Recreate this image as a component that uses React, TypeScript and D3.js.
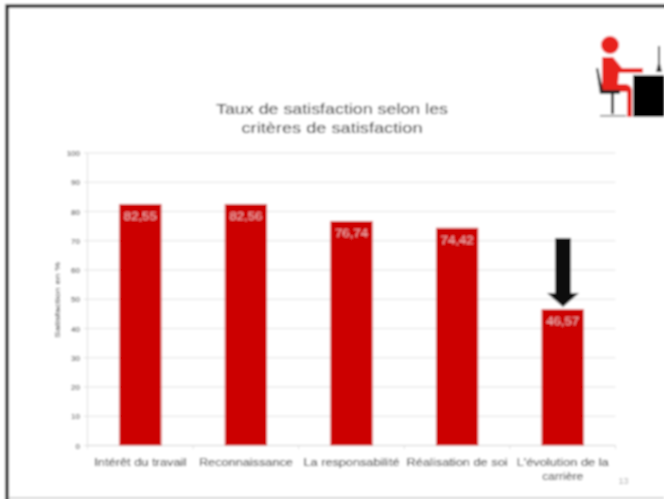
import React from "react";
import * as d3 from "d3";

const categories = ["Intérêt du travail", "Reconnaissance", "La responsabilité", "Réalisation de soi", "L'évolution de la carrière"];
const categoryLines = [["Intérêt du travail"], ["Reconnaissance"], ["La responsabilité"], ["Réalisation de soi"], ["L'évolution de la", "carrière"]];
const categoryLineWidths = [[92], [94], [96], [101], [92, 41]];
const values = [82.55, 82.56, 76.74, 74.42, 46.57];
const valueLabels = ["82,55", "82,56", "76,74", "74,42", "46,57"];
const yTicks = [0, 10, 20, 30, 40, 50, 60, 70, 80, 90, 100];
const titleLines = ["Taux de satisfaction selon les", "critères de satisfaction"];
const titleWidths = [232, 181];
const yAxisTitle = "Satisfaction en %";
const font = "'Liberation Sans', Arial, sans-serif";

export default function App() {
  const x = d3.scaleBand<string>().domain(categories).range([87.5, 615.5]).paddingInner(0.6).paddingOuter(0.3);
  const outer = d3.scaleBand<string>().domain(categories).range([87.5, 615.5]);
  const y = d3.scaleLinear().domain([0, 100]).range([445.5, 153]);
  const bw = x.bandwidth();
  return (
    <svg width={664} height={499} style={{ position: "absolute", left: 0, top: 0, background: "#fff" }}>
      <defs>
        <filter id="b" x="0" y="0" width="664" height="499" filterUnits="userSpaceOnUse"><feGaussianBlur stdDeviation="0.8" /></filter>
      </defs>
      <g filter="url(#b)">
        <rect width={664} height={499} fill="#fff" />
        <rect x={7} y={6} width={670} height={600} fill="none" stroke="#222" strokeWidth={3.5} />
        <line x1={8} x2={664} y1={498} y2={498} stroke="#aaa" strokeWidth={1} />

        {yTicks.map(t => (
          <g key={t}>
            <line x1={87.5} x2={615.5} y1={y(t)} y2={y(t)} stroke={t === 0 ? "#d0d0d0" : "#e2e2e2"} />
            <line x1={84} x2={87.5} y1={y(t)} y2={y(t)} stroke="#ddd" />
            <text x={80} y={y(t) + 3} textAnchor="end" fontFamily={font} fontSize={8} fill="#222">{t}</text>
          </g>
        ))}
        <line x1={87.5} x2={87.5} y1={153} y2={445.5} stroke="#dcdcdc" />
        {categories.map(c => (
          <line key={c} x1={outer(c)!} x2={outer(c)!} y1={445.5} y2={449} stroke="#ddd" />
        ))}
        <line x1={615.5} x2={615.5} y1={445.5} y2={449} stroke="#ddd" />

        {categories.map((c, i) => {
          const cx = x(c)! + bw / 2;
          return (
            <g key={c}>
              <rect x={x(c)!} y={y(values[i])} width={bw} height={y(0) - y(values[i])} fill="#cc0000" />
              <text x={cx} y={y(values[i]) + 16} textAnchor="middle" fontFamily={font} fontSize={10} fill="#fff" fillOpacity={0.72} textLength={33} lengthAdjust="spacingAndGlyphs">{valueLabels[i]}</text>
              {categoryLines[i].map((l, k) => (
                <text key={l} x={outer(c)! + outer.bandwidth() / 2} y={465.5 + k * 14.5} textAnchor="middle" fontFamily={font} fontSize={10} fill="#111" textLength={categoryLineWidths[i][k]} lengthAdjust="spacingAndGlyphs">{l}</text>
              ))}
            </g>
          );
        })}

        <text transform="translate(60,300) rotate(-90)" textAnchor="middle" fontFamily={font} fontSize={7.5} fill="#222" textLength={76} lengthAdjust="spacingAndGlyphs">{yAxisTitle}</text>
        {titleLines.map((l, i) => (
          <text key={l} x={332} y={114 + i * 19} textAnchor="middle" fontFamily={font} fontSize={15} fill="#111" textLength={titleWidths[i]} lengthAdjust="spacingAndGlyphs">{l}</text>
        ))}
        <text x={618.5} y={483.5} fontFamily={font} fontSize={9} fill="#aaa">13</text>

        <path d="M555,238 H571 V293 H579 L563,307 L547,293 H555 Z" fill="#0a0a0a" />

        <g>
          <rect x={633} y={75} width={31} height={42} fill="#000" />
          <path d="M658,46 H660 V64 L662,72 H656 L658,64 Z" fill="#222" />
          <circle cx={610} cy={45} r={9} fill="#e8211d" />
          <path d="M602,57 H613 L622,68 H643 V73 H619 L618,84 H626 Q632,85 632,92 V117 H627 V92 H602 Z" fill="#e8211d" />
          <path d="M596,68 L598,68 L603,90 H620 V94 H600 Z" fill="#222" />
          <rect x={611} y={94} width={3} height={20} fill="#222" />
          <path d="M600,115 H626 V116.5 H600 Z" fill="#777" />
        </g>
      </g>
    </svg>
  );
}
